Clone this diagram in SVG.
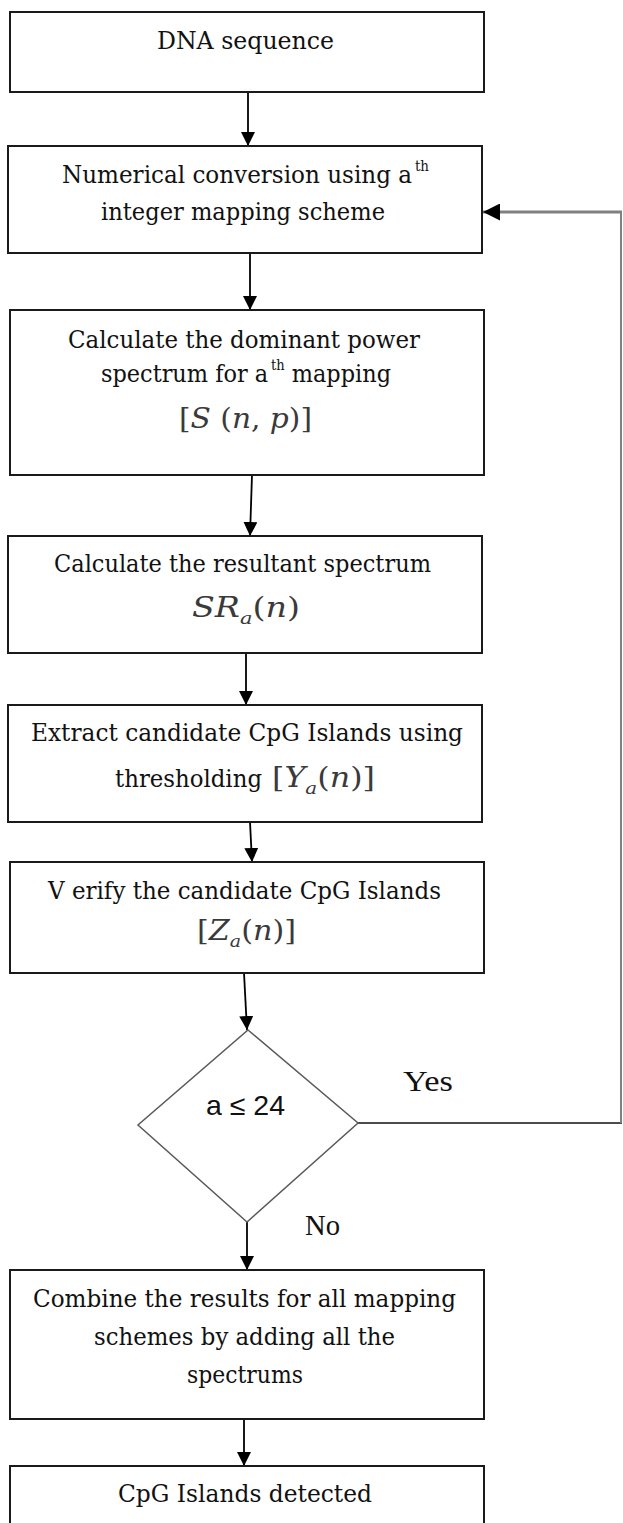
<svg xmlns="http://www.w3.org/2000/svg" width="623" height="1523" viewBox="0 0 623 1523">
<defs>
<marker id="ah" viewBox="0 0 10 10" refX="10" refY="5" markerWidth="14" markerHeight="14" markerUnits="userSpaceOnUse" orient="auto">
<path d="M0,0 L10,5 L0,10 z" fill="#000"/>
</marker>
<marker id="ahb" viewBox="0 0 10 10" refX="10" refY="5" markerWidth="17" markerHeight="17" markerUnits="userSpaceOnUse" orient="auto">
<path d="M0,0 L10,5 L0,10 z" fill="#000"/>
</marker>
</defs>
<style>
.box{fill:#fff;stroke:#1a1a1a;stroke-width:2}
.dia{fill:#fff;stroke:#5a5a5a;stroke-width:1.5}
.t{font-family:"DejaVu Serif","Liberation Serif",serif;font-size:24px;fill:#111}
.lbl{font-family:"Liberation Serif","DejaVu Serif",serif;font-size:30px;fill:#111}
.cond{font-family:"Liberation Sans","DejaVu Sans",sans-serif;font-size:28px;fill:#111}
.m{font-family:"DejaVu Serif","Liberation Serif",serif;font-size:27px;fill:#3a3a3a}
.i{font-style:italic}
.sup{font-size:14px}
.sub{font-size:17px}
.c{stroke:#000;stroke-width:1.8;fill:none}
.fb{stroke:#808080;stroke-width:3;fill:none}
.fbv{stroke:#808080;stroke-width:2;fill:none}
</style>
<rect width="623" height="1523" fill="#fff"/>
<g id="connectors">
<line class="c" x1="248" y1="92" x2="248" y2="146" marker-end="url(#ah)"/>
<line class="c" x1="250" y1="253" x2="250" y2="310" marker-end="url(#ah)"/>
<line class="c" x1="252" y1="475" x2="250" y2="536" marker-end="url(#ah)"/>
<line class="c" x1="246" y1="653" x2="246" y2="705" marker-end="url(#ah)"/>
<line class="c" x1="250" y1="822" x2="252" y2="862" marker-end="url(#ah)"/>
<line class="c" x1="244" y1="973" x2="247" y2="1030" marker-end="url(#ah)"/>
<line class="c" x1="247" y1="1222" x2="247" y2="1270" marker-end="url(#ah)"/>
<line class="c" x1="244" y1="1419" x2="244" y2="1466" marker-end="url(#ah)"/>
<line x1="358" y1="1123" x2="622" y2="1123" stroke="#111" stroke-width="1.5"/>
<line class="fbv" x1="621" y1="1123" x2="621" y2="212"/>
<line class="fb" x1="622" y1="212" x2="483" y2="212" marker-end="url(#ahb)"/>
<text class="lbl" x="403" y="1091" textLength="50" lengthAdjust="spacingAndGlyphs">Yes</text>
<text class="lbl" x="305" y="1235" textLength="35" lengthAdjust="spacingAndGlyphs">No</text>
</g>
<g id="n1">
<rect class="box" x="10" y="12" width="474" height="80"/>
<text class="t" x="157" y="49" textLength="177" lengthAdjust="spacingAndGlyphs">DNA sequence</text>
</g>
<g id="n2">
<rect class="box" x="8" y="146" width="474" height="107"/>
<text class="t" x="62" y="183" textLength="367" lengthAdjust="spacingAndGlyphs">Numerical conversion using a<tspan class="sup" dx="3" dy="-12">th</tspan></text>
<text class="t" x="101" y="220" textLength="284" lengthAdjust="spacingAndGlyphs">integer mapping scheme</text>
</g>
<g id="n3">
<rect class="box" x="10" y="310" width="474" height="165"/>
<text class="t" x="68" y="348" textLength="352" lengthAdjust="spacingAndGlyphs">Calculate the dominant power</text>
<text class="t" x="101" y="382" textLength="290" lengthAdjust="spacingAndGlyphs">spectrum for a<tspan class="sup" dx="3" dy="-12">th</tspan><tspan dy="12"> mapping</tspan></text>
<text class="m" x="179" y="428" textLength="133" lengthAdjust="spacingAndGlyphs">[<tspan class="i">S</tspan> (<tspan class="i">n</tspan>, <tspan class="i">p</tspan>)]</text>
</g>
<g id="n4">
<rect class="box" x="8" y="536" width="474" height="117"/>
<text class="t" x="54" y="572" textLength="377" lengthAdjust="spacingAndGlyphs">Calculate the resultant spectrum</text>
<text class="m" x="192" y="617" textLength="108" lengthAdjust="spacingAndGlyphs"><tspan class="i">SR</tspan><tspan class="i sub" dy="7">a</tspan><tspan dy="-7">(</tspan><tspan class="i">n</tspan>)</text>
</g>
<g id="n5">
<rect class="box" x="8" y="705" width="474" height="117"/>
<text class="t" x="31" y="741" textLength="432" lengthAdjust="spacingAndGlyphs">Extract candidate CpG Islands using</text>
<text class="t" x="115" y="787" textLength="147" lengthAdjust="spacingAndGlyphs">thresholding</text>
<text class="m" x="272" y="787" textLength="103" lengthAdjust="spacingAndGlyphs">[<tspan class="i">Y</tspan><tspan class="i sub" dy="7">a</tspan><tspan dy="-7">(</tspan><tspan class="i">n</tspan>)]</text>
</g>
<g id="n6">
<rect class="box" x="10" y="862" width="474" height="111"/>
<text class="t" x="48" y="899" textLength="393" lengthAdjust="spacingAndGlyphs">V erify the candidate CpG Islands</text>
<text class="m" x="197" y="940" textLength="99" lengthAdjust="spacingAndGlyphs">[<tspan class="i">Z</tspan><tspan class="i sub" dy="7">a</tspan><tspan dy="-7">(</tspan><tspan class="i">n</tspan>)]</text>
</g>
<g id="n7">
<polygon class="dia" points="248,1030 358,1123 247,1222 138,1125"/>
<text class="cond" x="206" y="1115" textLength="79" lengthAdjust="spacingAndGlyphs">a ≤ 24</text>
</g>
<g id="n8">
<rect class="box" x="10" y="1270" width="474" height="149"/>
<text class="t" x="33" y="1307" textLength="423" lengthAdjust="spacingAndGlyphs">Combine the results for all mapping</text>
<text class="t" x="94" y="1345" textLength="301" lengthAdjust="spacingAndGlyphs">schemes by adding all the</text>
<text class="t" x="187" y="1383" textLength="116" lengthAdjust="spacingAndGlyphs">spectrums</text>
</g>
<g id="n9">
<rect class="box" x="10" y="1466" width="474" height="70"/>
<text class="t" x="118" y="1502" textLength="254" lengthAdjust="spacingAndGlyphs">CpG Islands detected</text>
</g>
</svg>
